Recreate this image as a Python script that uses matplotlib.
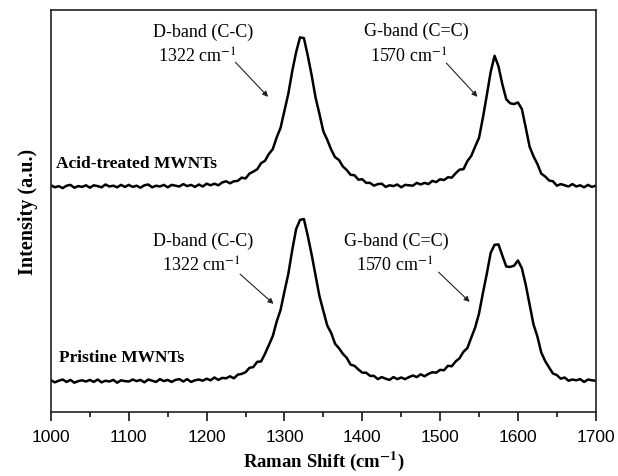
import numpy as np
import matplotlib
matplotlib.use('Agg')
import matplotlib.pyplot as plt
from matplotlib.ticker import MultipleLocator

plt.rcParams['mathtext.fontset'] = 'stix'

# Raman shift grid (cm-1), one reading every 5 cm-1
shift = np.arange(1000, 1705, 5)

# acid-treated MWNTs (upper trace, arbitrary units)
acid = [56.4, 55.9, 56.2, 55.7, 56.3, 56.5, 55.8, 56.2, 56.0, 56.4,
        55.8, 56.4, 56.2, 55.9, 56.6, 56.1, 56.3, 55.9, 56.5, 56.0,
        56.5, 56.0, 56.3, 55.8, 56.4, 56.6, 55.9, 56.3, 56.1, 56.5,
        55.9, 56.5, 56.3, 56.1, 56.7, 56.2, 56.5, 56.0, 56.6, 56.1,
        56.8, 56.4, 56.8, 56.4, 57.1, 57.4, 56.9, 57.4, 57.5, 58.3,
        58.1, 59.3, 59.8, 60.4, 61.9, 62.5, 64.2, 65.4, 68.3, 70.7,
        74.9, 79.2, 84.8, 89.5, 93.2, 93.0, 88.6, 83.7, 78.2, 74.1,
        69.8, 67.7, 65.3, 63.4, 62.7, 61.1, 60.2, 59.0, 58.9, 57.8,
        57.9, 57.0, 57.0, 56.3, 56.7, 56.8, 56.0, 56.4, 56.2, 56.6,
        55.9, 56.5, 56.4, 56.3, 57.0, 56.6, 57.0, 56.7, 57.5, 57.2,
        57.9, 57.7, 58.4, 58.3, 59.4, 60.3, 60.4, 62.4, 63.7, 66.0,
        68.2, 73.2, 78.8, 84.6, 88.6, 86.0, 81.5, 77.8, 76.8, 76.6,
        77.0, 75.4, 70.8, 66.0, 63.6, 61.7, 59.3, 58.6, 57.6, 57.4,
        56.3, 56.7, 56.4, 56.1, 56.7, 56.1, 56.4, 55.9, 56.5, 56.0,
        56.3]

# pristine MWNTs (lower trace)
pristine = [7.9, 7.4, 7.8, 8.1, 7.5, 8.0, 7.3, 7.7, 7.9, 7.6,
            8.0, 7.5, 8.1, 7.4, 7.8, 7.6, 8.0, 7.3, 7.9, 7.7,
            7.6, 8.1, 7.7, 8.0, 7.4, 8.1, 7.8, 7.5, 8.2, 7.7,
            8.0, 7.5, 8.0, 8.2, 7.6, 8.2, 7.5, 7.9, 8.1, 7.8,
            8.3, 7.9, 8.6, 8.0, 8.5, 8.4, 8.9, 8.4, 9.3, 9.5,
            9.9, 11.0, 11.2, 12.5, 12.6, 14.5, 16.7, 18.9, 22.5, 25.4,
            30.0, 34.4, 40.3, 45.5, 47.8, 48.0, 43.8, 39.1, 33.9, 28.8,
            25.2, 21.5, 19.7, 17.0, 15.9, 14.5, 13.5, 11.8, 11.5, 10.6,
            9.8, 9.8, 9.0, 9.0, 8.2, 8.7, 8.3, 8.0, 8.7, 8.2,
            8.6, 8.2, 8.7, 9.1, 8.7, 9.4, 8.9, 9.5, 9.9, 9.8,
            10.5, 10.4, 11.5, 11.4, 12.6, 13.4, 15.0, 15.9, 18.5, 21.0,
            24.5, 29.6, 34.4, 39.6, 41.6, 41.7, 38.9, 36.2, 36.1, 36.4,
            37.7, 35.8, 31.7, 26.7, 21.8, 18.8, 14.8, 12.7, 11.1, 9.6,
            9.2, 8.3, 8.6, 7.8, 8.1, 7.9, 8.2, 7.5, 8.1, 7.9,
            7.8]

sample_names = ['Acid-treated MWNTs', 'Pristine MWNTs']
band_names = ['D-band (C-C)', 'G-band (C=C)']
band_pos = ['1322 cm$^{-1}$', '1570 cm$^{-1}$']

fig = plt.figure(figsize=(6.18, 4.77), dpi=100)
ax = fig.add_axes([0.0825, 0.134, 0.8815, 0.843])

ax.plot(shift, acid, color='black', lw=1.8)
ax.plot(shift, pristine, color='black', lw=1.8)

ax.set_xlim(1000, 1700)
ax.set_ylim(0, 100)
ax.set_yticks([])
ax.xaxis.set_major_locator(MultipleLocator(100))
ax.xaxis.set_minor_locator(MultipleLocator(50))
ax.tick_params(axis='x', which='major', length=6.5, width=1.1, pad=6,
               labelsize=12.5)
ax.tick_params(axis='x', which='minor', length=3.5, width=1.1)
for lab in ax.get_xticklabels():
    lab.set_family('Liberation Sans')
for s in ax.spines.values():
    s.set_linewidth(1.2)
    s.set_color('#222222')

serif = 'Liberation Serif'
ax.set_xlabel('Raman Shift (cm$^{\\mathbf{-1}}$)', family=serif,
              fontweight='bold', fontsize=13.5, labelpad=3)
ax.set_ylabel('Intensity (a.u.)', family=serif, fontweight='bold',
              fontsize=14.5, labelpad=9)

# sample labels
ax.text(1006, 62.0, sample_names[0], family=serif, fontweight='bold',
        fontsize=12.5, va='center')
ax.text(1010, 13.7, sample_names[1], family=serif, fontweight='bold',
        fontsize=12.5, va='center')

# band labels and arrows: (band, name x, name y, pos x, pos y, tail, head)
notes = [
    (0, 1196, 94.8, 1188, 88.6, (1237, 87.0), (1279, 78.4)),
    (1, 1469, 95.0, 1460, 88.6, (1508, 86.8), (1548, 78.4)),
    (0, 1196, 42.8, 1193, 36.6, (1243, 34.3), (1286, 26.9)),
    (1, 1444, 42.8, 1442, 36.6, (1498, 34.8), (1538, 27.4)),
]
for i, nx, ny, px, py, tail, head in notes:
    ax.text(nx, ny, band_names[i], family=serif, fontsize=13,
            ha='center', va='center')
    ax.text(px, py, band_pos[i], family=serif, fontsize=13,
            ha='center', va='center')
    ax.annotate('', xy=head, xytext=tail,
                arrowprops=dict(arrowstyle='-|>', color='#222222', lw=0.8,
                                mutation_scale=8, shrinkA=0, shrinkB=0))

fig.savefig('out.png', dpi=100)
